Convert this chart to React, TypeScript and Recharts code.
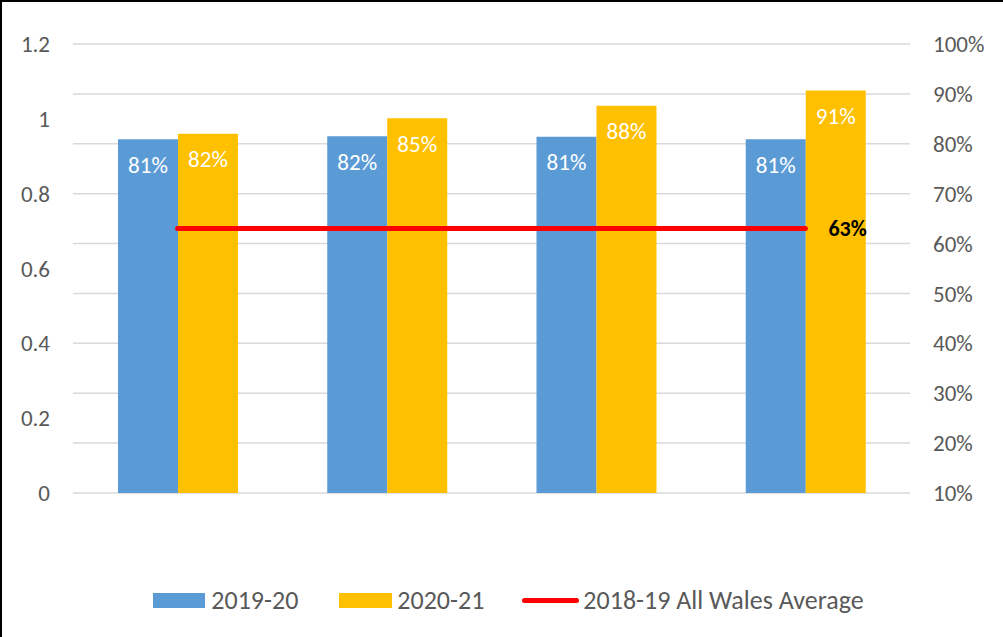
import React from "react";
import {
  ComposedChart,
  Bar,
  Line,
  XAxis,
  YAxis,
  CartesianGrid,
  Legend,
  LabelList,
} from "recharts";

const GROUPS = ["Group 1", "Group 2", "Group 3", "Group 4"];
const SERIES_2019 = [80.9, 81.5, 81.4, 80.9];
const SERIES_2020 = [82.0, 85.1, 87.6, 90.7];
const WALES_AVG = [63, 63, 63, 63];

const LEFT_TICKS = [0, 0.2, 0.4, 0.6, 0.8, 1, 1.2];
const RIGHT_TICKS = [10, 20, 30, 40, 50, 60, 70, 80, 90, 100];

const BLUE = "#5B9BD5";
const GOLD = "#FFC000";
const RED = "#FF0000";
const TEXT = "#595959";
const GRID = "#D9D9D9";

const data = GROUPS.map((name, i) => ({
  name,
  y2019: SERIES_2019[i],
  y2020: SERIES_2020[i],
  avg: WALES_AVG[i],
}));

const pct = (v: any) => `${Math.round(Number(v))}%`;

function AvgLabel(props: any) {
  const { x, y, value, index } = props;
  if (index !== data.length - 1) return null;
  return (
    <text x={x + 23} y={y} dy="0.35em" fontSize={22} fontWeight="bold" fill="#000">
      {pct(value)}
    </text>
  );
}

function ChartLegend() {
  const item = { display: "flex", alignItems: "center" } as const;
  return (
    <div
      style={{
        display: "flex",
        justifyContent: "center",
        alignItems: "center",
        height: 30,
        fontSize: 26,
        color: TEXT,
        paddingLeft: 14,
      }}
    >
      <span style={item}>
        <span style={{ width: 52, height: 15, background: BLUE, marginRight: 6 }} />
        2019-20
      </span>
      <span style={{ ...item, marginLeft: 41 }}>
        <span style={{ width: 53, height: 15, background: GOLD, marginRight: 5 }} />
        2020-21
      </span>
      <span style={{ ...item, marginLeft: 38 }}>
        <span style={{ width: 57, height: 5, borderRadius: 3, background: RED, marginRight: 4 }} />
        2018-19 All Wales Average
      </span>
    </div>
  );
}

export default function App() {
  return (
    <div
      style={{
        position: "absolute",
        top: 0,
        left: 0,
        width: 1003,
        height: 637,
        background: "#fff",
        fontFamily: "Carlito, Calibri, Lato, sans-serif",
      }}
    >
      <ComposedChart
        width={1003}
        height={637}
        data={data}
        margin={{ top: 44, right: 0, left: 0, bottom: 114 }}
        barCategoryGap="21.5%"
        barGap={0}
      >
        <CartesianGrid yAxisId="right" vertical={false} stroke={GRID} strokeWidth={1.5} />
        <XAxis dataKey="name" hide />
        <YAxis
          yAxisId="left"
          orientation="left"
          width={73}
          type="number"
          domain={[0, 1.2]}
          allowDataOverflow
          ticks={LEFT_TICKS}
          axisLine={false}
          tickLine={false}
          tickMargin={17}
          tick={{ fill: TEXT, fontSize: 23 }}
        />
        <YAxis
          yAxisId="right"
          orientation="right"
          width={93}
          domain={[10, 100]}
          ticks={RIGHT_TICKS}
          axisLine={false}
          tickLine={false}
          tickMargin={17}
          tickFormatter={(v) => `${v}%`}
          tick={{ fill: TEXT, fontSize: 23 }}
        />
        <Bar yAxisId="right" dataKey="y2019" name="2019-20" fill={BLUE} isAnimationActive={false}>
          <LabelList dataKey="y2019" position="insideTop" offset={17} fill="#fff" fontSize={23} formatter={pct} />
        </Bar>
        <Bar yAxisId="right" dataKey="y2020" name="2020-21" fill={GOLD} isAnimationActive={false}>
          <LabelList dataKey="y2020" position="insideTop" offset={17} fill="#fff" fontSize={23} formatter={pct} />
        </Bar>
        <Line
          yAxisId="right"
          dataKey="avg"
          name="2018-19 All Wales Average"
          stroke={RED}
          strokeWidth={5}
          strokeLinecap="round"
          dot={false}
          activeDot={false}
          isAnimationActive={false}
        >
          <LabelList dataKey="avg" content={AvgLabel} />
        </Line>
        {/* left axis scale carries no marks of its own; this keeps it rendered */}
        <Line
          yAxisId="left"
          dataKey="avg"
          stroke="none"
          dot={false}
          activeDot={false}
          legendType="none"
          isAnimationActive={false}
        />
        <Legend
          verticalAlign="bottom"
          content={() => <ChartLegend />}
          wrapperStyle={{ top: 585, left: 0, width: 1003 }}
        />
      </ComposedChart>
      <div
        style={{
          position: "absolute",
          top: 0,
          left: 0,
          width: 1003,
          height: 637,
          boxSizing: "border-box",
          borderLeft: "2px solid #000",
          borderTop: "2px solid #000",
          pointerEvents: "none",
        }}
      />
    </div>
  );
}
